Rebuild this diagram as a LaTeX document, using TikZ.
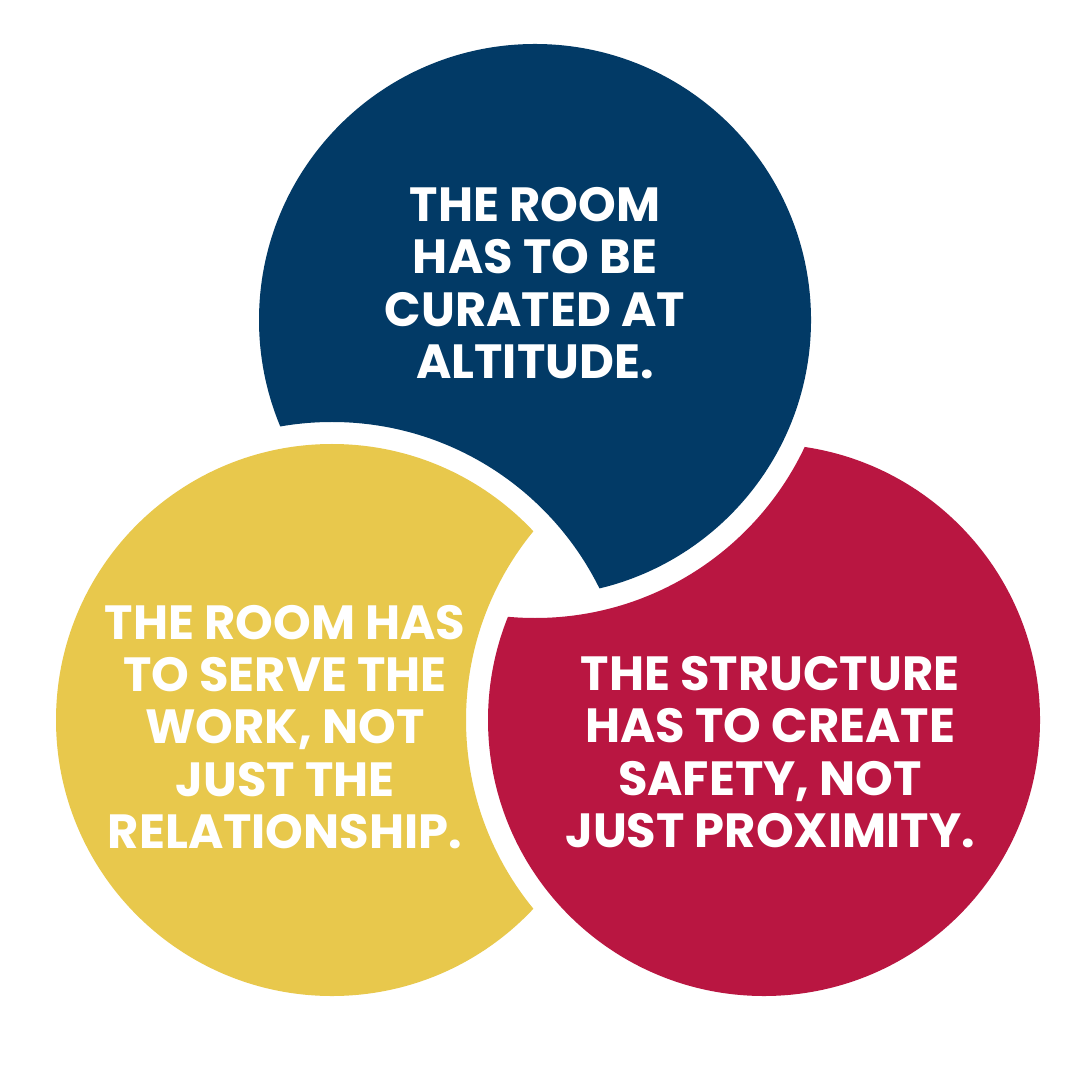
\documentclass[tikz,border=0pt]{standalone}
\usepackage{fontspec}
\setmainfont{Poppins}
\definecolor{cblue}{HTML}{023A66}
\definecolor{cyellow}{HTML}{E8C84C}
\definecolor{cred}{HTML}{B91641}
\begin{document}
\begin{tikzpicture}[x=0.01cm,y=-0.01cm,
  lbl/.style={text=white,align=center,font=\fontsize{13.65}{14.9}\selectfont\bfseries,inner sep=0pt}]
\useasboundingbox[fill=white] (0,0) rectangle (1080,1080);
\def\R{276}
\def\G{298}
\coordinate (B) at (535,320);
\coordinate (Y) at (332,720);
\coordinate (Rd) at (764,720);
% blue cut by yellow
\begin{scope}
\clip (B) circle (\R);
\fill[cblue,even odd rule] (-100,-100) rectangle (1200,1200) (Y) circle (\G);
\end{scope}
% red cut by blue
\begin{scope}
\clip (Rd) circle (\R);
\fill[cred,even odd rule] (-100,-100) rectangle (1200,1200) (B) circle (\G);
\end{scope}
% yellow cut by red
\begin{scope}
\clip (Y) circle (\R);
\fill[cyellow,even odd rule] (-100,-100) rectangle (1200,1200) (Rd) circle (\G);
\end{scope}
\node[lbl] (tb) at (535,283) {THE ROOM\\HAS TO BE\\CURATED AT\\ALTITUDE.};
\node[lbl] (ty) at (285,727) {THE ROOM HAS\\TO SERVE THE\\WORK, NOT\\JUST THE\\RELATIONSHIP.};
\node[lbl] (tr) at (770,752) {THE STRUCTURE\\HAS TO CREATE\\SAFETY, NOT\\JUST PROXIMITY.};
\end{tikzpicture}
\end{document}
